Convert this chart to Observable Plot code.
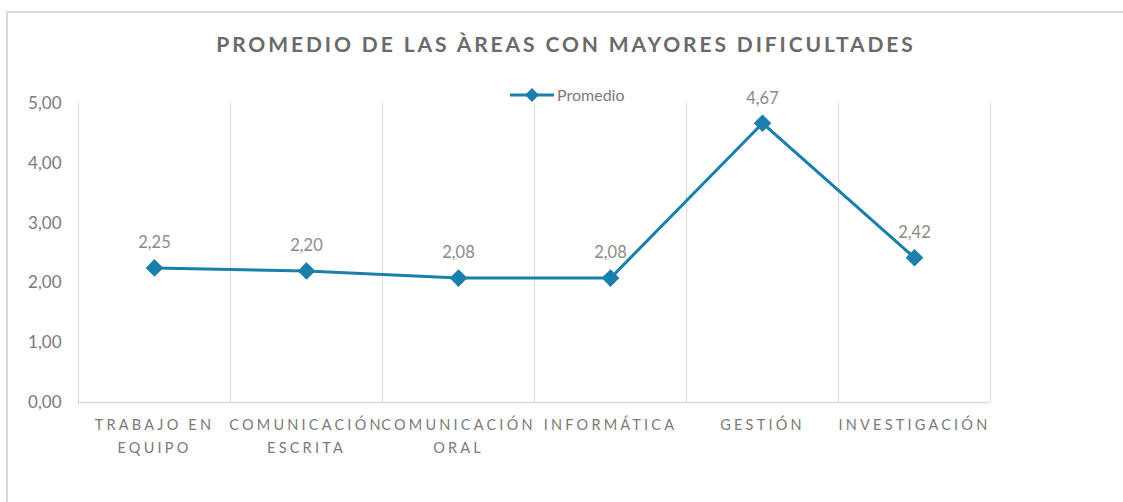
<!DOCTYPE html>
<html>
<head>
<meta charset="utf-8">
<script src="https://cdn.jsdelivr.net/npm/d3@7"></script>
<script src="https://cdn.jsdelivr.net/npm/@observablehq/plot@0.6"></script>
<style>
  html, body { margin: 0; padding: 0; background: #fff; }
  #wrap { position: relative; width: 1123px; height: 502px; overflow: hidden; font-family: Lato, "Open Sans", sans-serif; }
  #frame { position: absolute; left: 6px; top: 11px; width: 1200px; height: 600px; border-top: 2px solid #d9d9d9; border-left: 2px solid #d9d9d9; box-sizing: border-box; }
  #title { position: absolute; left: 0; width: 1132px; top: 31px; text-align: center; font-size: 21px; font-weight: 700; color: #6a6a6a; letter-spacing: 2.9px; }
  #legend { position: absolute; left: 510px; top: 85px; font-size: 16px; color: #7a7a7a; display: flex; align-items: center; }
  #chart { position: absolute; left: 0; top: 0; }
  #chart svg g[aria-label="x-axis tick label"] text { letter-spacing: 3.2px; }
</style>
</head>
<body>
<div id="wrap">
  <div id="frame"></div>
  <div id="chart"></div>
  <div id="title">PROMEDIO DE LAS ÀREAS CON MAYORES DIFICULTADES</div>
  <div id="legend"></div>
</div>
<script>
const categories = ["TRABAJO EN\nEQUIPO", "COMUNICACIÓN\nESCRITA", "COMUNICACIÓN\nORAL", "INFORMÁTICA", "GESTIÓN", "INVESTIGACIÓN"];
const promedio = [2.25, 2.20, 2.08, 2.08, 4.67, 2.42];
const yTicks = [0, 1, 2, 3, 4, 5];
const seriesName = "Promedio";

const lineColor = "#1a7fab";
const textColor = "#7a7a7a";
const labelColor = "#8a8a8a";
const gridColor = "#d9d9d9";

const data = categories.map((c, i) => ({cat: c, value: promedio[i]}));
const fmt = v => d3.format(".2f")(v).replace(".", ",");

const W = 1123, H = 502, mL = 78, mR = 133, mT = 103, mB = 100;
const bw = (W - mL - mR) / categories.length;

const chart = Plot.plot({
  width: W,
  height: H,
  marginLeft: mL,
  marginRight: mR,
  marginTop: mT,
  marginBottom: mB,
  style: {fontFamily: "Lato, 'Open Sans', sans-serif", background: "transparent", color: textColor},
  x: {type: "band", domain: categories, padding: 0, label: null},
  y: {domain: [0, 5], label: null},
  marks: [
    Plot.ruleX(categories, {x: d => d, dx: -bw / 2, stroke: gridColor, strokeWidth: 1}),
    Plot.ruleX([categories[categories.length - 1]], {x: d => d, dx: bw / 2, stroke: gridColor, strokeWidth: 1}),
    Plot.ruleY([0], {stroke: gridColor, strokeWidth: 1.5}),
    Plot.axisY({ticks: yTicks, tickFormat: fmt, tickSize: 0, tickPadding: 17, fontSize: 17, fill: textColor}),
    Plot.axisX({tickSize: 0, tickPadding: 12, fontSize: 14.5, fill: textColor, lineHeight: 1.55}),
    Plot.line(data, {x: "cat", y: "value", stroke: lineColor, strokeWidth: 3}),
    Plot.dot(data, {x: "cat", y: "value", symbol: "diamond2", r: 7, fill: lineColor, stroke: lineColor}),
    Plot.text(data, {x: "cat", y: "value", text: d => fmt(d.value), dy: -25, fontSize: 16.5, fill: labelColor})
  ]
});
document.getElementById("chart").appendChild(chart);

document.getElementById("legend").innerHTML =
  `<svg width="44" height="14" style="margin-right:3px"><line x1="0" y1="7" x2="44" y2="7" stroke="${lineColor}" stroke-width="3"/><path d="M22 0 L29 7 L22 14 L15 7 Z" fill="${lineColor}"/></svg><span>${seriesName}</span>`;
</script>
</body>
</html>
